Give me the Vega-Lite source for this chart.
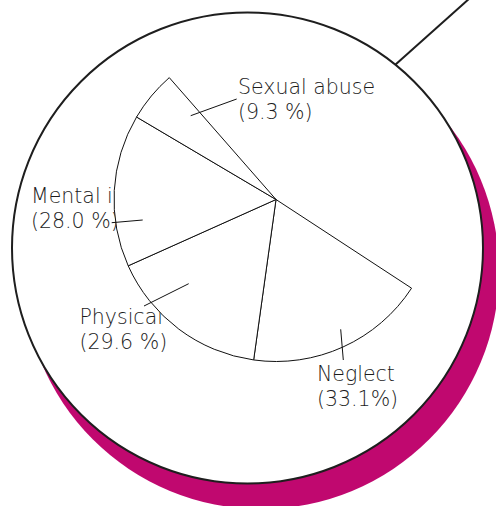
{
  "$schema": "https://vega.github.io/schema/vega-lite/v6.json",
  "width": 496,
  "height": 506,
  "autosize": {"type": "none"},
  "padding": 0,
  "background": "white",
  "config": {"view": {"stroke": null}},
  "datasets": {
    "discs": [
      {"id": "shadow", "x": 261, "y": 271},
      {"id": "disc", "x": 247.5, "y": 248}
    ],
    "pointer": [{"x": 470, "y": -2, "x2": 395, "y2": 65}],
    "slices": [
      {"cat": "Neglect", "pct": 33.1, "k": 1, "cx": 276, "cy": 199.5},
      {"cat": "Physical", "pct": 29.6, "k": 2, "cx": 276, "cy": 199.5},
      {"cat": "Mental illness", "pct": 28.0, "k": 3, "cx": 276, "cy": 199.5},
      {"cat": "Sexual abuse", "pct": 9.3, "k": 4, "cx": 276, "cy": 199.5}
    ],
    "labels": [
      {"label": "Sexual abuse\n(9.3 %)", "x": 238, "y": 94},
      {"label": "Mental illness\n(28.0 %)", "x": 31, "y": 203},
      {"label": "Physical\n(29.6 %)", "x": 79.5, "y": 324},
      {"label": "Neglect\n(33.1%)", "x": 317, "y": 381}
    ],
    "leaders": [
      {"x": 236.7, "y": 99, "x2": 190.7, "y2": 115.7},
      {"x": 111.7, "y": 222.7, "x2": 142.7, "y2": 220},
      {"x": 144, "y": 306, "x2": 188.7, "y2": 283.7},
      {"x": 340.7, "y": 329.3, "x2": 343.3, "y2": 360}
    ]
  },
  "layer": [
    {
      "data": {"name": "discs"},
      "transform": [{"filter": "datum.id == 'shadow'"}],
      "mark": {"type": "point", "shape": "circle", "size": 226576, "filled": true, "color": "#c0086f", "opacity": 1, "strokeWidth": 0},
      "encoding": {
        "x": {"field": "x", "type": "quantitative", "scale": {"domain": [0, 496], "nice": false, "zero": false}, "axis": null},
        "y": {"field": "y", "type": "quantitative", "scale": {"domain": [0, 506], "nice": false, "zero": false, "reverse": true}, "axis": null}
      }
    },
    {
      "data": {"name": "pointer"},
      "mark": {"type": "rule", "color": "#1e1e1e", "strokeWidth": 2},
      "encoding": {
        "x": {"field": "x", "type": "quantitative"},
        "y": {"field": "y", "type": "quantitative"},
        "x2": {"field": "x2"},
        "y2": {"field": "y2"}
      }
    },
    {
      "data": {"name": "discs"},
      "transform": [{"filter": "datum.id == 'disc'"}],
      "mark": {"type": "point", "shape": "circle", "size": 221841, "filled": true, "fill": "white", "stroke": "#1e1e1e", "strokeWidth": 2, "opacity": 1, "fillOpacity": 1, "strokeOpacity": 1},
      "encoding": {
        "x": {"field": "x", "type": "quantitative"},
        "y": {"field": "y", "type": "quantitative"}
      }
    },
    {
      "data": {"name": "labels"},
      "mark": {"type": "text", "align": "left", "baseline": "alphabetic", "font": "DejaVu Sans", "fontWeight": 200, "fontSize": 20.5, "lineHeight": 25, "lineBreak": "\n", "fill": "#1c1c1c", "opacity": 1},
      "encoding": {
        "x": {"field": "x", "type": "quantitative"},
        "y": {"field": "y", "type": "quantitative"},
        "text": {"field": "label"}
      }
    },
    {
      "data": {"name": "slices"},
      "mark": {"type": "arc", "outerRadius": 162, "fill": "white", "stroke": "#111111", "strokeWidth": 1},
      "encoding": {
        "theta": {"field": "pct", "type": "quantitative", "stack": true, "scale": {"domain": [0, 100], "range": [2.15, 5.564]}},
        "order": {"field": "k", "type": "quantitative"},
        "x": {"field": "cx", "type": "quantitative"},
        "y": {"field": "cy", "type": "quantitative"}
      }
    },
    {
      "data": {"name": "leaders"},
      "mark": {"type": "rule", "color": "#111111", "strokeWidth": 1},
      "encoding": {
        "x": {"field": "x", "type": "quantitative"},
        "y": {"field": "y", "type": "quantitative"},
        "x2": {"field": "x2"},
        "y2": {"field": "y2"}
      }
    }
  ]
}
